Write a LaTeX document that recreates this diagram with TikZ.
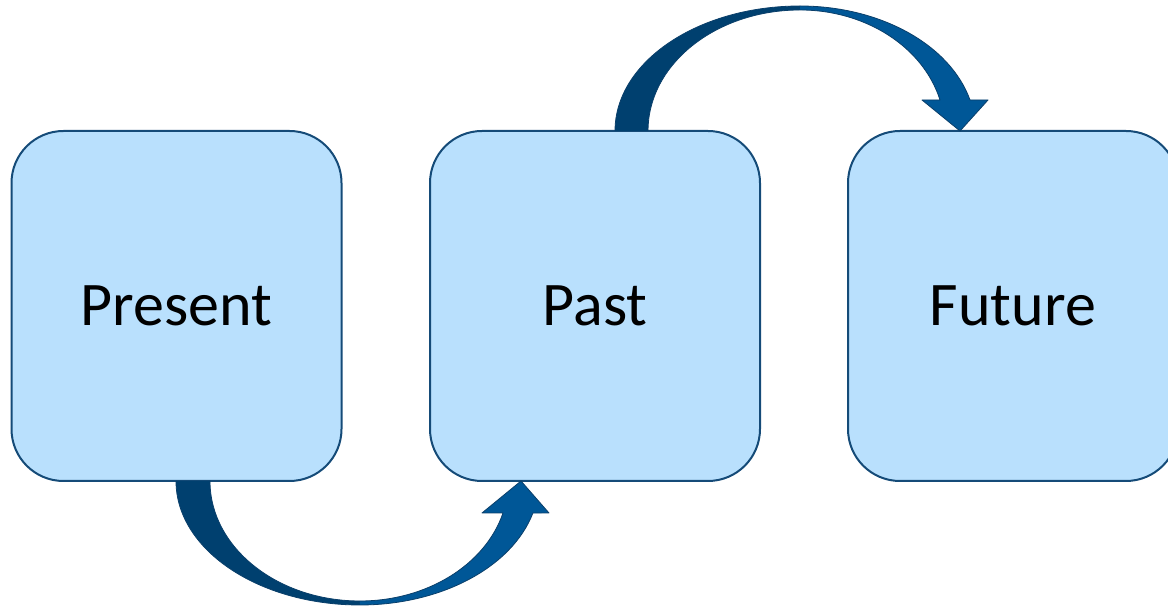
\documentclass[tikz,border=0pt]{standalone}
\usepackage{fontspec}
\setmainfont{Carlito}
\definecolor{boxfill}{HTML}{B9E0FD}
\definecolor{boxline}{HTML}{154B78}
\definecolor{arrdark}{HTML}{00406F}
\definecolor{arrlight}{HTML}{005797}
\definecolor{arrline}{HTML}{0B3F6A}
\tikzset{
  stagebox/.style={draw=boxline, line width=1.5pt, fill=boxfill, rounded corners=39pt,
    minimum width=247.5pt, minimum height=262.5pt, inner sep=0pt,
    font=\fontsize{46.5}{54}\selectfont},
  arrowedge/.style={draw=arrline, line width=0.6pt, line join=round}
}
\begin{document}
\begin{tikzpicture}[x=0.75pt, y=0.75pt]
\useasboundingbox (0,0) rectangle (1168,610);
\node[stagebox] (present) at (176.5,304) {\raisebox{-1.5pt}{Present}};
\node[stagebox] (past) at (595,304) {\raisebox{-1.5pt}{Past}};
\begin{scope}
\clip (0,0) rectangle (1168,610);
\node[stagebox] (future) at (1013,304) {\raisebox{-1.5pt}{Future}};
\end{scope}
% bottom arrow: Present -> Past
\fill[arrdark] (176,129) arc[start angle=180, end angle=270, x radius=184, y radius=124]
  -- (360,9) arc[start angle=270, end angle=180, x radius=150, y radius=120] -- cycle;
\fill[arrlight] (360,5) arc[start angle=270, end angle=345.04, x radius=179, y radius=124]
  -- (549,97) -- (521,129) -- (482,97) -- (503,97)
  arc[start angle=344.53, end angle=270, x radius=148.4, y radius=120] -- cycle;
\draw[arrowedge] (176,129) arc[start angle=180, end angle=270, x radius=184, y radius=124]
  arc[start angle=270, end angle=345.04, x radius=179, y radius=124]
  -- (549,97) -- (521,129) -- (482,97) -- (503,97)
  arc[start angle=344.53, end angle=270, x radius=148.4, y radius=120]
  arc[start angle=270, end angle=180, x radius=150, y radius=120];
% top arrow: Past -> Future
\fill[arrdark] (615,479) arc[start angle=180, end angle=90, x radius=185, y radius=125]
  -- (800,600) arc[start angle=90, end angle=180, x radius=152, y radius=121] -- cycle;
\fill[arrlight] (800,604) arc[start angle=90, end angle=14.36, x radius=175.5, y radius=125]
  -- (988,510) -- (960,479) -- (922,510) -- (940,510)
  arc[start angle=14.84, end angle=90, x radius=144.8, y radius=121] -- cycle;
\draw[arrowedge] (615,479) arc[start angle=180, end angle=90, x radius=185, y radius=125]
  arc[start angle=90, end angle=14.36, x radius=175.5, y radius=125]
  -- (988,510) -- (960,479) -- (922,510) -- (940,510)
  arc[start angle=14.84, end angle=90, x radius=144.8, y radius=121]
  arc[start angle=90, end angle=180, x radius=152, y radius=121];
\end{tikzpicture}
\end{document}
